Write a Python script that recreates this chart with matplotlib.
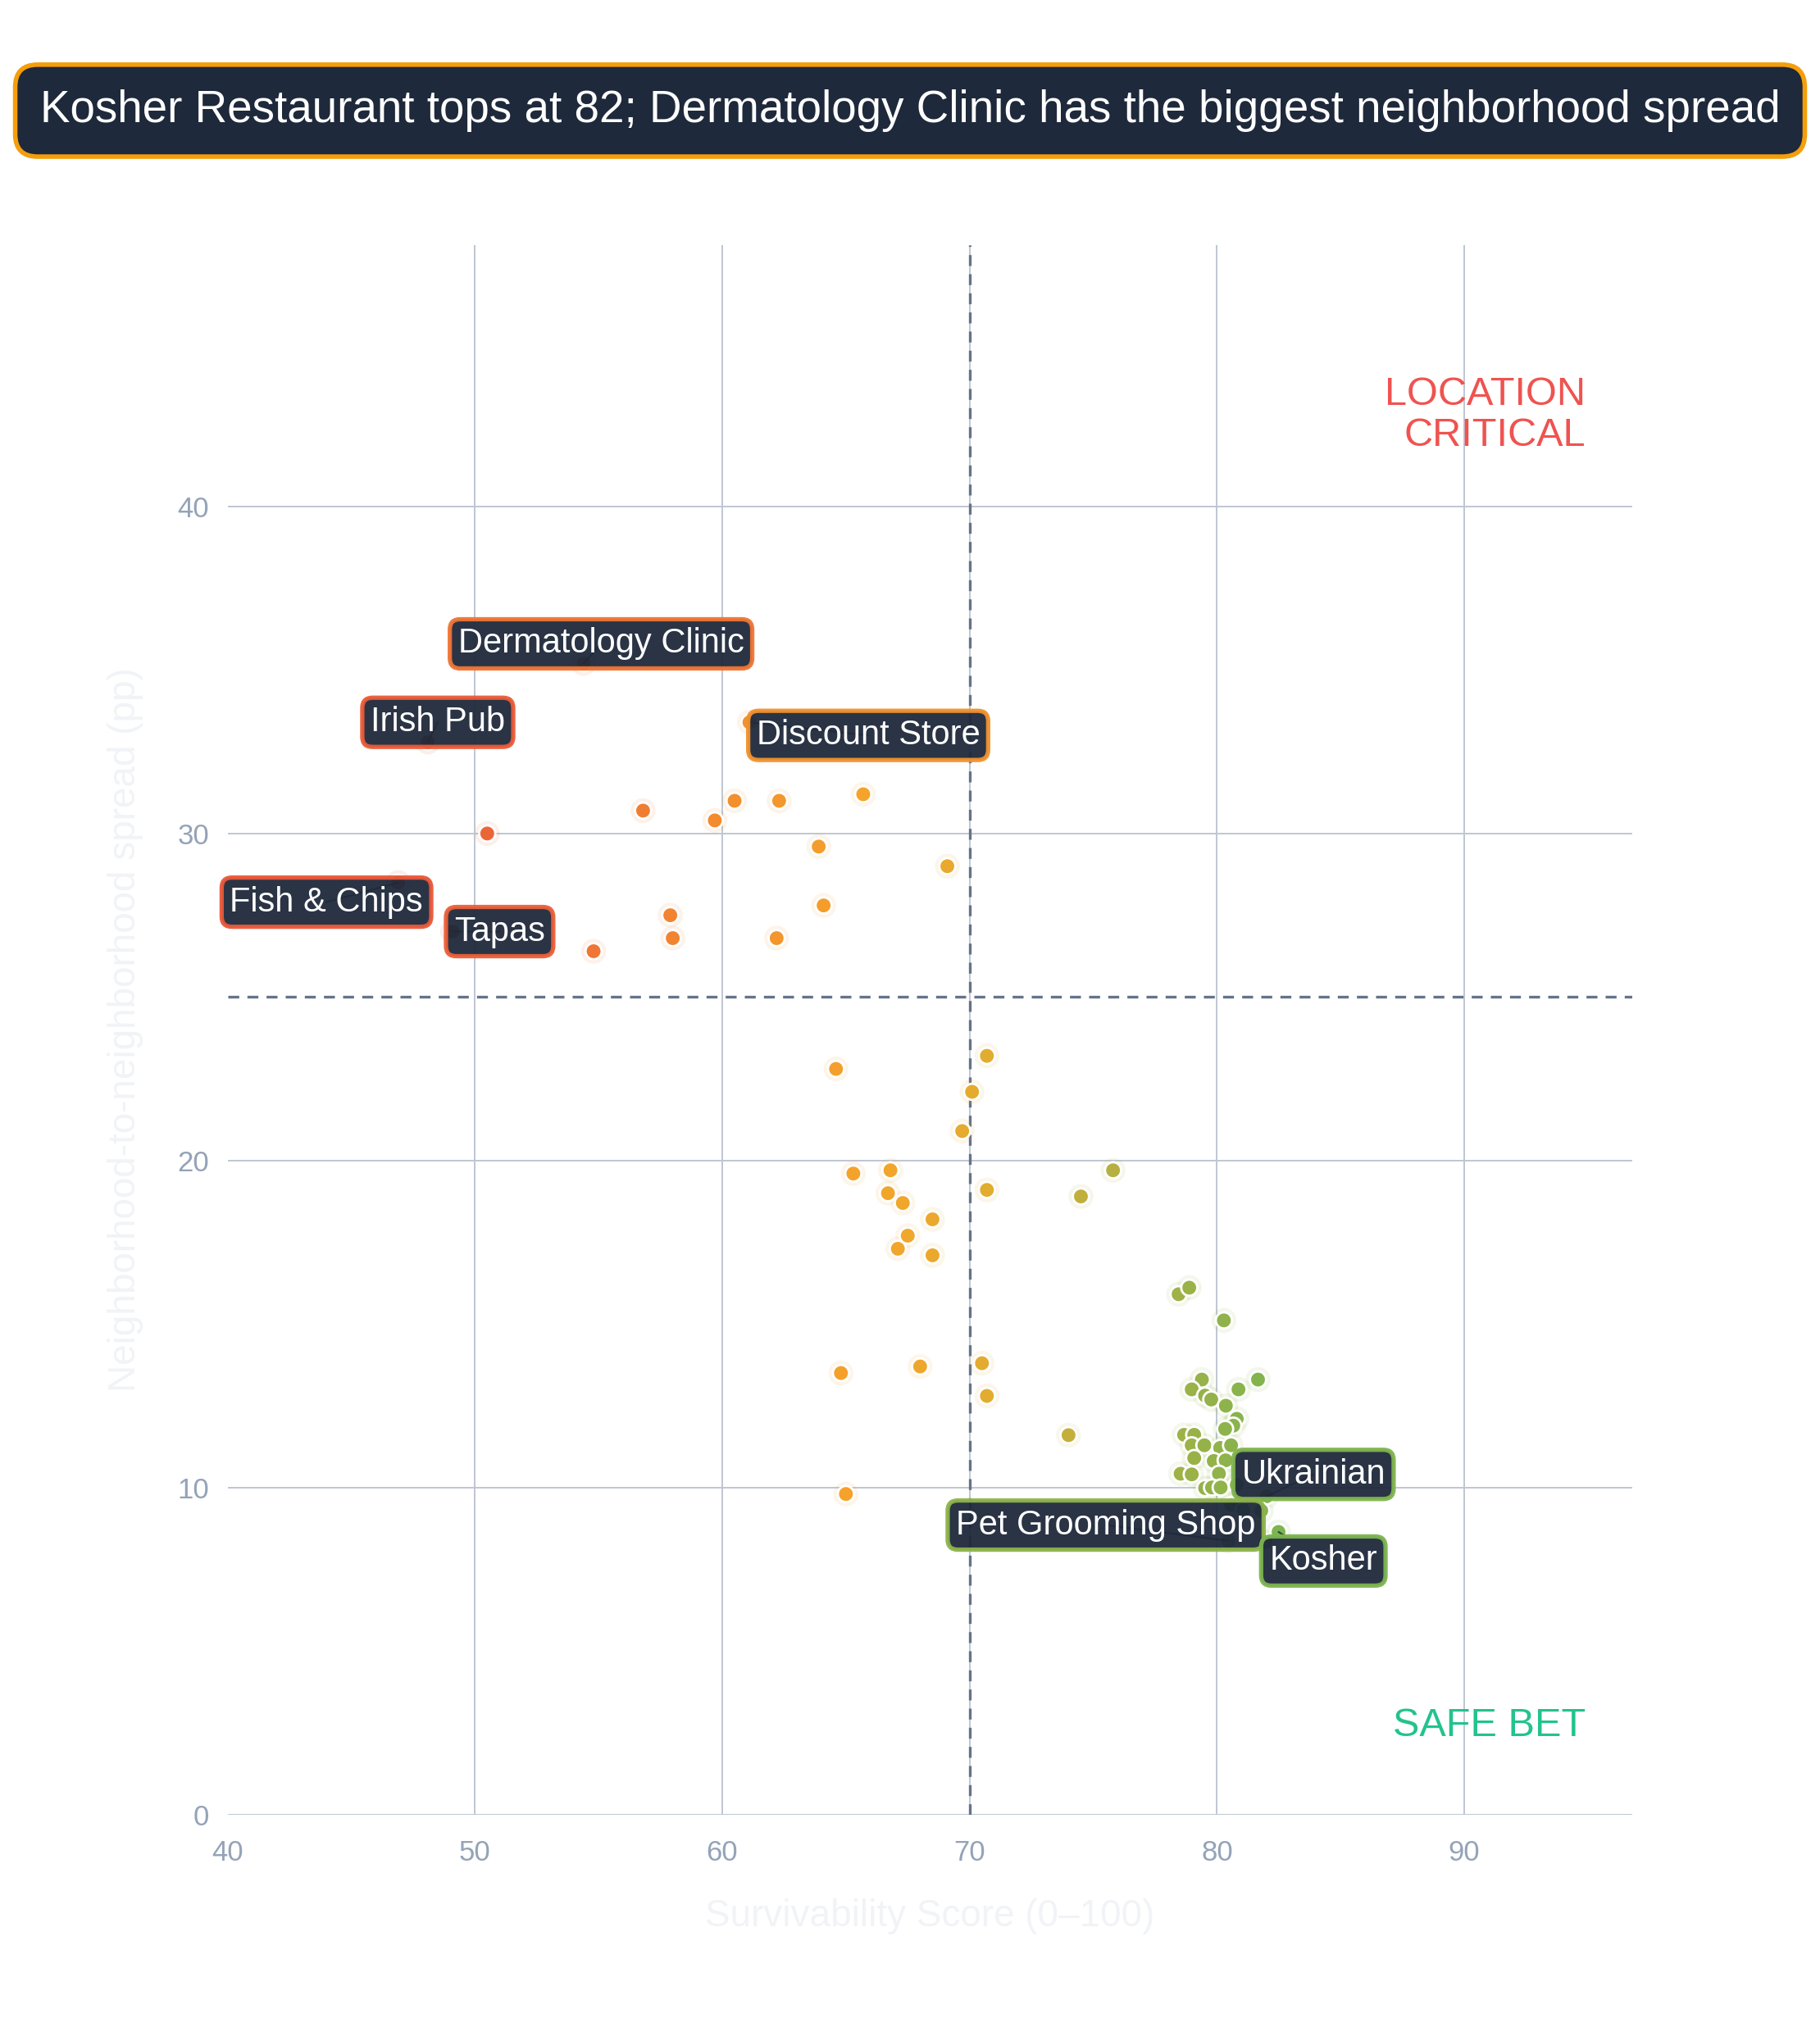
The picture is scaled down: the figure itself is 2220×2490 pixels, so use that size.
import numpy as np
import matplotlib
matplotlib.use('Agg')
import matplotlib.pyplot as plt
from matplotlib.colors import LinearSegmentedColormap

plt.rcParams['font.family'] = ['Liberation Sans', 'DejaVu Sans']

# --- data ---
score = [50.5, 56.8, 59.7, 60.5, 62.3, 65.7, 63.9, 69.1, 64.1, 57.9, 58.0, 62.2, 54.8,
         54.4, 48.1, 61.1, 46.9, 49.1,
         64.6, 70.7, 70.1, 69.7, 65.3, 66.8, 66.7, 67.3, 68.5, 67.5, 67.1, 68.5, 70.7,
         74.5, 75.8, 64.8, 68.0, 70.5, 70.7, 65.0, 74.0,
         78.45, 78.88, 80.28, 79.39, 78.98, 80.87, 81.66, 79.52, 79.77, 80.36, 80.8,
         80.66, 80.33, 78.67, 79.08, 78.98, 79.49, 80.13, 80.57, 79.08, 79.87, 80.35,
         78.53, 78.98, 80.08, 79.52, 79.8, 80.15,
         80.8, 82.0, 80.57, 81.07, 81.79, 80.46, 81.96, 82.49]
spread = [30.0, 30.7, 30.4, 31.0, 31.0, 31.2, 29.6, 29.0, 27.8, 27.5, 26.8, 26.8, 26.4,
          35.2, 32.8, 33.4, 28.5, 27.0,
          22.8, 23.2, 22.1, 20.9, 19.6, 19.7, 19.0, 18.7, 18.2, 17.7, 17.3, 17.1, 19.1,
          18.9, 19.7, 13.5, 13.7, 13.8, 12.8, 9.8, 11.6,
          15.91, 16.11, 15.11, 13.30, 13.0, 13.0, 13.30, 12.81, 12.69, 12.5, 12.10,
          11.89, 11.79, 11.61, 11.61, 11.29, 11.29, 11.21, 11.29, 10.9, 10.81, 10.83,
          10.42, 10.40, 10.42, 9.98, 10.0, 10.0,
          10.08, 9.73, 9.46, 9.3, 9.29, 8.37, 8.33, 8.64]

label_names = ['Dermatology Clinic', 'Irish Pub', 'Discount Store', 'Fish & Chips', 'Tapas',
               'Ukrainian', 'Pet Grooming Shop', 'Kosher']
label_x = [54.4, 48.1, 61.1, 46.9, 49.1, 82.0, 80.46, 82.49]
label_y = [35.2, 32.8, 33.4, 28.5, 27.0, 9.73, 8.37, 8.64]
label_tx = [55.1, 48.5, 65.9, 44.0, 51.0, 83.9, 75.5, 84.3]
label_ty = [35.8, 33.4, 33.0, 27.9, 27.0, 10.4, 8.85, 7.75]

title = 'Kosher Restaurant tops at 82; Dermatology Clinic has the biggest neighborhood spread'
score_cut = 70
spread_cut = 25

# --- styling ---
cmap = LinearSegmentedColormap.from_list('surv', [
    (0.0, '#e8503a'), (0.25, '#ef7434'), (0.45, '#f3962c'), (0.55, '#f5a42a'),
    (0.68, '#e2ac2f'), (0.80, '#b9b040'), (1.0, '#78b450')])
norm = plt.Normalize(45, 83)
NAVY = '#1e293b'
TICK = '#94a3b8'

fig = plt.figure(figsize=(11.1, 12.45), dpi=200)
ax = fig.add_axes([0.125, 0.111, 0.772, 0.769])

cols = cmap(norm(np.array(score)))
ax.scatter(score, spread, s=120, c=cols, alpha=0.10, linewidths=0, zorder=3)
ax.scatter(score, spread, s=50, c=cols, edgecolors='white', linewidths=1.0, zorder=4)

ax.axvline(score_cut, color='#667389', ls=(0, (4, 3)), lw=1.2, zorder=2)
ax.axhline(spread_cut, color='#667389', ls=(0, (4, 3)), lw=1.2, zorder=2)

for name, px, py, tx, ty in zip(label_names, label_x, label_y, label_tx, label_ty):
    ec = cmap(norm(px))
    ax.annotate(name, xy=(px, py), xytext=(tx, ty), ha='center', va='center',
                fontsize=15, color='white', zorder=6,
                bbox=dict(boxstyle='round,pad=0.24,rounding_size=0.3', fc=NAVY, ec=ec,
                          lw=1.9, alpha=0.95),
                arrowprops=dict(arrowstyle='-', color=NAVY, lw=0.8, alpha=0.8,
                                shrinkA=0, shrinkB=0))

ax.text(94.9, 42.8, 'LOCATION\nCRITICAL', ha='right', va='center', fontsize=17.5,
        color='#ef5350', linespacing=1.15, zorder=5)
ax.text(94.9, 2.7, 'SAFE BET', ha='right', va='center', fontsize=17.5,
        color='#22c38e', zorder=5)

ax.set_xlim(40, 96.8)
ax.set_ylim(0, 48)
ax.set_xticks([40, 50, 60, 70, 80, 90])
ax.set_yticks([0, 10, 20, 30, 40])
ax.tick_params(length=0, labelsize=12.5, colors=TICK)
ax.tick_params(axis='x', pad=11)
ax.tick_params(axis='y', pad=8)
ax.grid(True, color='#bfc6d2', lw=0.7)
ax.set_axisbelow(True)
for s in ax.spines.values():
    s.set_visible(False)
ax.set_xlabel('Survivability Score (0\u2013100)', fontsize=16.5, color='#f1f3f6', labelpad=14)
ax.set_ylabel('Neighborhood-to-neighborhood spread (pp)', fontsize=16.5, color='#f1f3f6',
              labelpad=15)

fig.text(0.5, 0.9458, title, ha='center', va='center', fontsize=19.7, color='white',
         bbox=dict(boxstyle='round,pad=0.55,rounding_size=0.5', fc=NAVY, ec='#f59e0b',
                   lw=2.0))

fig.savefig('out.png', dpi=200, facecolor='white')
